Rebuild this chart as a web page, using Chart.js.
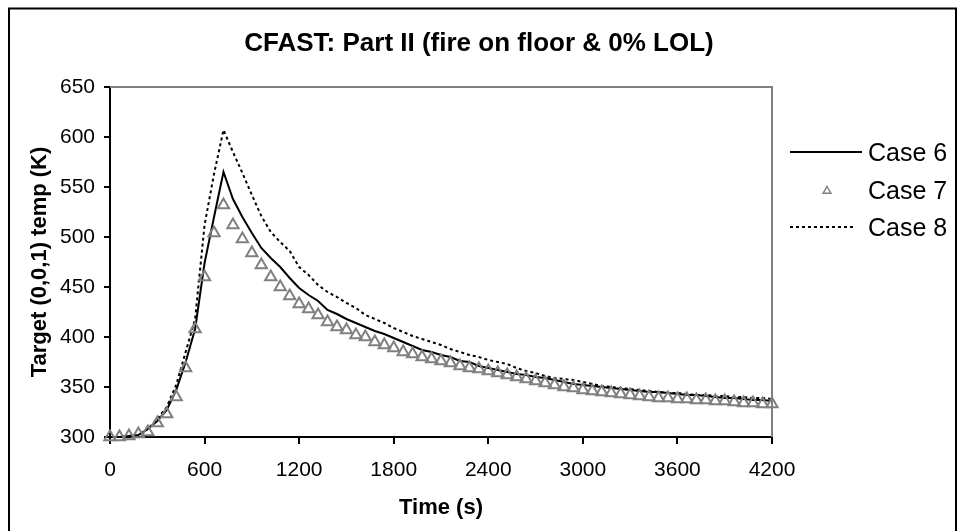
<!DOCTYPE html>
<html>
<head>
<meta charset="utf-8">
<script src="https://cdn.jsdelivr.net/npm/chart.js@4/dist/chart.umd.min.js"></script>
<style>
  html, body { margin: 0; padding: 0; background: #fff; }
  #wrap { width: 958px; height: 531px; }
</style>
</head>
<body>
<div id="wrap"><canvas id="chart" width="958" height="531"></canvas></div>
<script>
// Time (s) of each sample
const times = [0, 60, 120, 180, 240, 300, 360, 420, 480, 540, 600, 660, 720, 780, 840, 900, 960, 1020, 1080, 1140,
  1200, 1260, 1320, 1380, 1440, 1500, 1560, 1620, 1680, 1740, 1800, 1860, 1920, 1980, 2040, 2100, 2160, 2220, 2280, 2340,
  2400, 2460, 2520, 2580, 2640, 2700, 2760, 2820, 2880, 2940, 3000, 3060, 3120, 3180, 3240, 3300, 3360, 3420, 3480, 3540,
  3600, 3660, 3720, 3780, 3840, 3900, 3960, 4020, 4080, 4140, 4200];

// Target (0,0,1) temperature (K)
const case6 = [300, 300, 301, 302, 308, 316, 327, 347, 375, 408, 474, 520, 565, 538, 520, 504, 489, 479, 470, 459,
  449, 442, 436, 427, 423, 418, 414, 410, 406, 403, 399, 395, 391, 387, 385, 382, 380, 376, 375, 371,
  369, 367, 365, 363, 362, 360, 359, 357, 355, 353, 352, 351, 350, 349, 348, 347, 346, 345, 345, 344,
  343, 342, 342, 341, 340, 339, 339, 338, 337, 337, 336];
const case7 = [300, 300, 301, 303, 305, 314, 323, 340, 369, 408, 460, 504, 532, 512, 498, 484, 472, 460, 450, 441,
  433, 428, 422, 415, 410, 407, 402, 400, 395, 392, 389, 385, 383, 380, 378, 376, 374, 371, 369, 368,
  366, 364, 362, 360, 358, 356, 354, 352, 350, 349, 347, 346, 345, 344, 343, 342, 341, 340, 339, 339,
  338, 338, 337, 337, 336, 336, 335, 334, 334, 333, 333];
const case8 = [300, 300, 301, 302, 308, 318, 330, 352, 385, 418, 512, 563, 607, 585, 564, 542, 521, 505, 495, 486,
  470, 462, 452, 445, 440, 434, 429, 422, 418, 414, 409, 405, 401, 398, 395, 392, 388, 385, 382, 380,
  377, 375, 373, 369, 366, 364, 361, 359, 358, 357, 355, 353, 351, 350, 349, 348, 347, 346, 345, 344,
  344, 343, 342, 342, 341, 341, 340, 340, 339, 339, 338];

const seriesNames = ['Case 6', 'Case 7', 'Case 8'];
const chartTitle = 'CFAST: Part II (fire on floor & 0% LOL)';
const xTitle = 'Time (s)';
const yTitle = 'Target (0,0,1) temp (K)';

const FONT = "'Liberation Sans', Arial, sans-serif";

function toPoints(values) {
  return values.map((v, i) => ({ x: times[i], y: v }));
}

// White background, outer frame, title, gray top/right plot border and the legend
const decorPlugin = {
  id: 'decor',
  beforeDraw(chart) {
    const ctx = chart.ctx;
    ctx.save();
    ctx.fillStyle = '#fff';
    ctx.fillRect(0, 0, chart.width, chart.height);
    ctx.restore();
  },
  afterDatasetsDraw(chart) {
    const ctx = chart.ctx;
    const a = chart.chartArea;
    ctx.save();
    ctx.strokeStyle = '#808080';
    ctx.lineWidth = 2;
    ctx.beginPath();
    ctx.moveTo(a.left, a.top);
    ctx.lineTo(a.right, a.top);
    ctx.lineTo(a.right, a.bottom);
    ctx.stroke();
    ctx.restore();
  },
  afterDraw(chart) {
    const ctx = chart.ctx;
    ctx.save();
    // outer frame
    ctx.strokeStyle = '#000';
    ctx.lineWidth = 2;
    ctx.strokeRect(9, 8.5, 947, 600);

    // title, centred on the whole frame
    ctx.fillStyle = '#000';
    ctx.font = 'bold 26px ' + FONT;
    ctx.textAlign = 'center';
    ctx.textBaseline = 'middle';
    ctx.fillText(chartTitle, 479, 44);

    // legend
    const sets = chart.data.datasets;
    const rows = [153, 191, 228];
    ctx.font = '25px ' + FONT;
    ctx.textAlign = 'left';
    sets.forEach((ds, i) => {
      const y = rows[i];
      ctx.save();
      if (ds.showLine === false) {
        ctx.strokeStyle = ds.pointBorderColor;
        ctx.lineWidth = 1.5;
        const r = 4.5, cx = 827;
        ctx.beginPath();
        ctx.moveTo(cx, y - r);
        ctx.lineTo(cx + r * 0.866, y + r * 0.5);
        ctx.lineTo(cx - r * 0.866, y + r * 0.5);
        ctx.closePath();
        ctx.stroke();
      } else {
        ctx.strokeStyle = ds.borderColor;
        ctx.lineWidth = 2;
        ctx.setLineDash(ds.borderDash || []);
        ctx.beginPath();
        ctx.moveTo(790, y - 1);
        ctx.lineTo(ds.borderDash ? 854 : 862, y - 1);
        ctx.stroke();
      }
      ctx.restore();
      ctx.fillText(ds.label, 868, y + 1);
    });
    ctx.restore();
  }
};

const plotData = {
  datasets: [
    {
      label: seriesNames[0],
      data: toPoints(case6),
      borderColor: '#000',
      borderWidth: 2,
      pointRadius: 0,
      tension: 0,
      order: 2
    },
    {
      label: seriesNames[1],
      data: toPoints(case7),
      showLine: false,
      pointStyle: 'triangle',
      pointRadius: 6.5,
      pointBorderWidth: 2,
      pointBorderColor: '#808080',
      pointBackgroundColor: 'rgba(255,255,255,0)',
      clip: false,
      order: 1
    },
    {
      label: seriesNames[2],
      data: toPoints(case8),
      borderColor: '#000',
      borderWidth: 2,
      borderDash: [3, 3],
      pointRadius: 0,
      tension: 0,
      order: 3
    }
  ]
};

const plotConfig = {
  type: 'line',
  data: plotData,
  plugins: [decorPlugin],
  options: {
    responsive: false,
    animation: false,
    events: [],
    layout: { padding: { left: 0, right: 186, top: 87, bottom: 0 } },
    plugins: {
      legend: { display: false },
      tooltip: { enabled: false },
      title: { display: false }
    },
    scales: {
      x: {
        type: 'linear',
        min: 0,
        max: 4200,
        afterFit(scale) { scale.height = 94; },
        ticks: {
          stepSize: 600,
          color: '#000',
          font: { family: FONT, size: 21 },
          padding: 14,
          maxRotation: 0,
          callback: (v) => String(v)
        },
        grid: { drawOnChartArea: false, drawTicks: true, tickLength: 7, color: '#000', lineWidth: 2 },
        border: { color: '#000', width: 2 },
        title: {
          display: true,
          text: xTitle,
          color: '#000',
          font: { family: FONT, size: 22, weight: 'bold' },
          padding: { top: 0, bottom: 10 }
        }
      },
      y: {
        min: 300,
        max: 650,
        afterFit(scale) { scale.width = 110; },
        ticks: {
          stepSize: 50,
          color: '#000',
          font: { family: FONT, size: 21 },
          padding: 9,
          callback: (v) => String(v)
        },
        grid: { drawOnChartArea: false, drawTicks: true, tickLength: 6, color: '#000', lineWidth: 2 },
        border: { color: '#000', width: 2 },
        title: {
          display: true,
          text: yTitle,
          color: '#000',
          font: { family: FONT, size: 22, weight: 'bold' },
          padding: { top: 27, bottom: 0 }
        }
      }
    }
  }
};

window.chart = new Chart(document.getElementById('chart'), plotConfig);
</script>
</body>
</html>
